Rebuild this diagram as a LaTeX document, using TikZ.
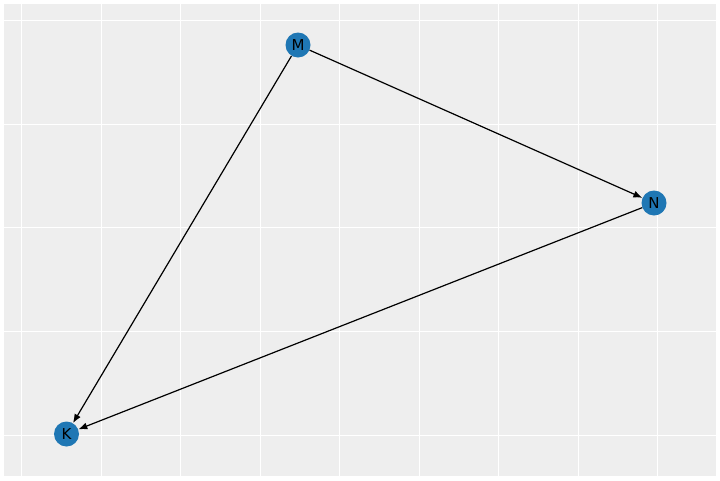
\documentclass[tikz,border=0pt]{standalone}
\usepackage{fontspec}
\setmainfont{DejaVu Sans}
\usetikzlibrary{arrows.meta}
\definecolor{panel}{RGB}{238,238,238}
\definecolor{nodeblue}{RGB}{31,119,180}

\begin{document}
\begin{tikzpicture}[x=1pt,y=-1pt, vnode/.style={fill=nodeblue,circle,minimum size=25pt,inner sep=0pt,font=\fontsize{15}{15}\selectfont}, gline/.style={white,line width=1pt}]
    \useasboundingbox (0,0) rectangle (720,480);
    \fill[panel] (4,4) rectangle (716,476);

   \begin{scope}[gline]
    \draw (21.5,4) -- (21.5,476);
    \draw (101,4) -- (101,476);
    \draw (180.5,4) -- (180.5,476);
    \draw (260,4) -- (260,476);
    \draw (339.5,4) -- (339.5,476);
    \draw (419,4) -- (419,476);
    \draw (498.5,4) -- (498.5,476);
    \draw (578,4) -- (578,476);
    \draw (657.5,4) -- (657.5,476);
    \draw (4,20.5) -- (716,20.5);
    \draw (4,124) -- (716,124);
    \draw (4,227.7) -- (716,227.7);
    \draw (4,331.5) -- (716,331.5);
    \draw (4,435) -- (716,435);
   \end{scope}

    \node[vnode] (M) at (298,45) {M};
    \node[vnode] (N) at (654,203) {N};
    \node[vnode] (K) at (66.5,434) {K};

   \begin{scope}[line width=1.2pt, -{Latex[length=9pt,width=7pt]}]
    \draw (M) -- (N) ;
    \draw (M) -- (K) ;
    \draw (N) -- (K) ;
   \end{scope}
\end{tikzpicture}
\end{document}
